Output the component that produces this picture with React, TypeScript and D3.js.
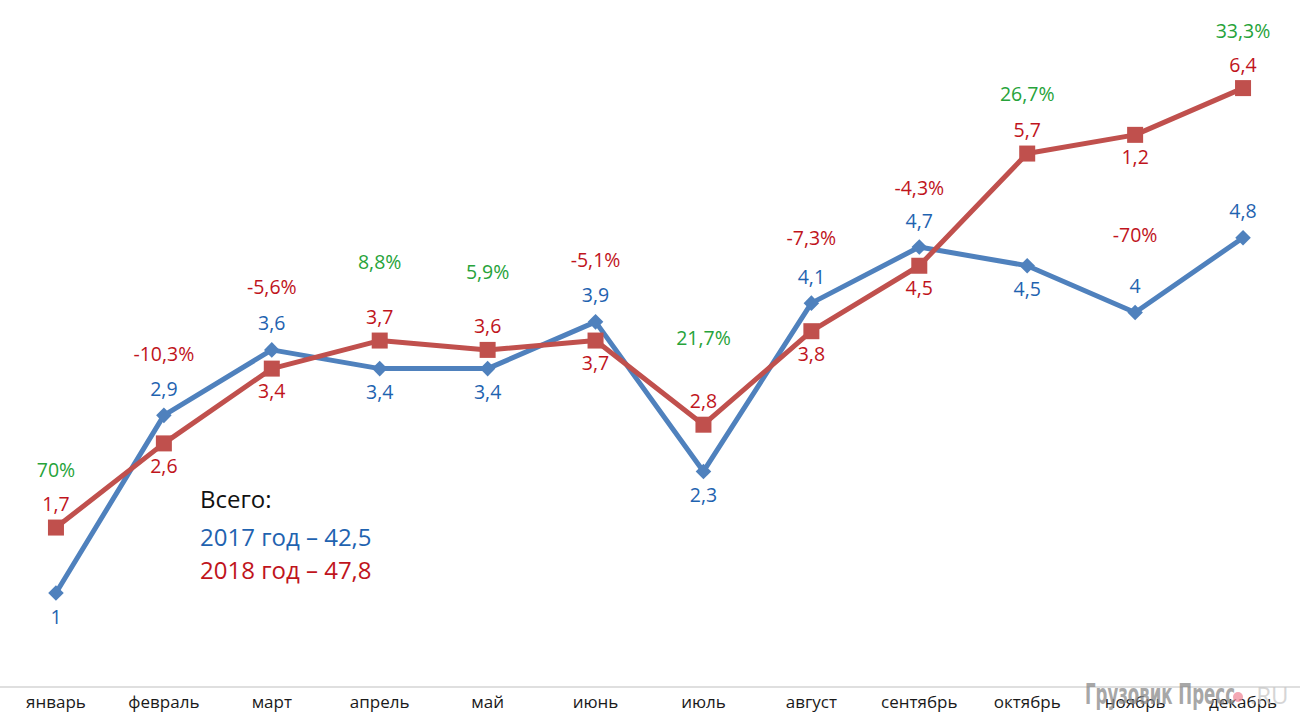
import { useRef, useEffect } from 'react';
import * as d3 from 'd3';

const months = ['январь', 'февраль', 'март', 'апрель', 'май', 'июнь', 'июль', 'август', 'сентябрь', 'октябрь', 'ноябрь', 'декабрь'];
const values2017 = [1, 2.9, 3.6, 3.4, 3.4, 3.9, 2.3, 4.1, 4.7, 4.5, 4, 4.8];
const values2018 = [1.7, 2.6, 3.4, 3.7, 3.6, 3.7, 2.8, 3.8, 4.5, 5.7, 5.9, 6.4];
const labels2017 = ['1', '2,9', '3,6', '3,4', '3,4', '3,9', '2,3', '4,1', '4,7', '4,5', '4', '4,8'];
const labels2018 = ['1,7', '2,6', '3,4', '3,7', '3,6', '3,7', '2,8', '3,8', '4,5', '5,7', '1,2', '6,4'];
// 1 = label above point, -1 = below
const side2017 = [-1, 1, 1, -1, -1, 1, -1, 1, 1, -1, 1, 1];
const side2018 = [1, -1, -1, 1, 1, -1, 1, -1, -1, 1, -1, 1];
const changes = ['70%', '-10,3%', '-5,6%', '8,8%', '5,9%', '-5,1%', '21,7%', '-7,3%', '-4,3%', '26,7%', '-70%', '33,3%'];
const changeLevel = [2.32, 3.56, 4.28, 4.55, 4.44, 4.57, 3.73, 4.8, 5.34, 6.34, 4.83, 7.02];

const W = 1300;
const H = 722;
const BLUE = '#4f81bd';
const RED = '#c0504d';
const BLUE_TXT = '#1f63b0';
const RED_TXT = '#c0141c';
const GREEN_TXT = '#27a33a';
const FONT = '"Open Sans", "Noto Sans", sans-serif';

export default function App() {
  const gx = useRef<SVGGElement>(null);

  const x = d3.scaleBand<string>().domain(months).range([2, 1297]);
  const y = d3.scaleLinear().domain([0, 7]).range([686.5, 686.5 - 7 * 93.5]);
  const cx = (i: number) => (x(months[i]) ?? 0) + x.bandwidth() / 2;

  const line = d3
    .line<number>()
    .x((_, i) => cx(i))
    .y((d) => y(d));

  useEffect(() => {
    if (!gx.current) return;
    const g = d3.select(gx.current);
    g.selectAll('*').remove();
    g.call(d3.axisBottom(x).tickSize(0).tickPadding(9));
    g.select('.domain').attr('stroke', '#bfbfbf').attr('d', `M0,0H${W}`);
    g.selectAll('text').attr('font-family', FONT).attr('font-size', 17).attr('fill', '#1a1a1a');
  }, []);

  const labelY = (v: number, side: number) => (side > 0 ? y(v) - 27 : y(v) + 23);

  return (
    <svg width={W} height={H} style={{ position: 'absolute', left: 0, top: 0, background: '#fff' }} fontFamily={FONT}>
      <g ref={gx} transform={`translate(0, ${687})`} />

      <path d={line(values2017) ?? ''} fill="none" stroke={BLUE} strokeWidth={5} strokeLinejoin="round" />
      <path d={line(values2018) ?? ''} fill="none" stroke={RED} strokeWidth={5} strokeLinejoin="round" />

      {values2017.map((v, i) => (
        <rect key={'d' + i} x={-5.5} y={-5.5} width={11} height={11} fill={BLUE} transform={`translate(${cx(i)},${y(v)}) rotate(45)`} />
      ))}
      {values2018.map((v, i) => (
        <rect key={'s' + i} x={cx(i) - 8} y={y(v) - 8} width={16} height={16} fill={RED} />
      ))}

      {values2017.map((v, i) => (
        <text key={'lb' + i} x={cx(i)} y={labelY(v, side2017[i])} textAnchor="middle" dominantBaseline="central" fontSize={19.5} fill={BLUE_TXT}>
          {labels2017[i]}
        </text>
      ))}
      {values2018.map((v, i) => (
        <text key={'lr' + i} x={cx(i)} y={labelY(v, side2018[i]) + (side2018[i] > 0 ? 3 : -1)} textAnchor="middle" dominantBaseline="central" fontSize={19.5} fill={RED_TXT}>
          {labels2018[i]}
        </text>
      ))}
      {changes.map((c, i) => (
        <text key={'c' + i} x={cx(i)} y={y(changeLevel[i])} textAnchor="middle" dominantBaseline="central" fontSize={19.5} fill={c.startsWith('-') ? RED_TXT : GREEN_TXT}>
          {c}
        </text>
      ))}

      <g fontSize={24}>
        <text x={200} y={508} fill="#111">Всего:</text>
        <text x={200} y={546} fill={BLUE_TXT}>2017 год – 42,5</text>
        <text x={200} y={579} fill={RED_TXT}>2018 год – 47,8</text>
      </g>

      <g opacity={0.75}>
        <text x={1085} y={704} fontFamily='"Liberation Sans Narrow", "DejaVu Sans Condensed", sans-serif' fontWeight="bold" fontSize={28} fill="#8a8a8a" textLength={150} lengthAdjust="spacingAndGlyphs">
          Грузовик Пресс
        </text>
        <circle cx={1238} cy={697} r={5} fill="#f08a9a" />
        <text x={1250} y={704} fontFamily={FONT} fontSize={24} fill="#c8c8c8">.RU</text>
      </g>
    </svg>
  );
}
